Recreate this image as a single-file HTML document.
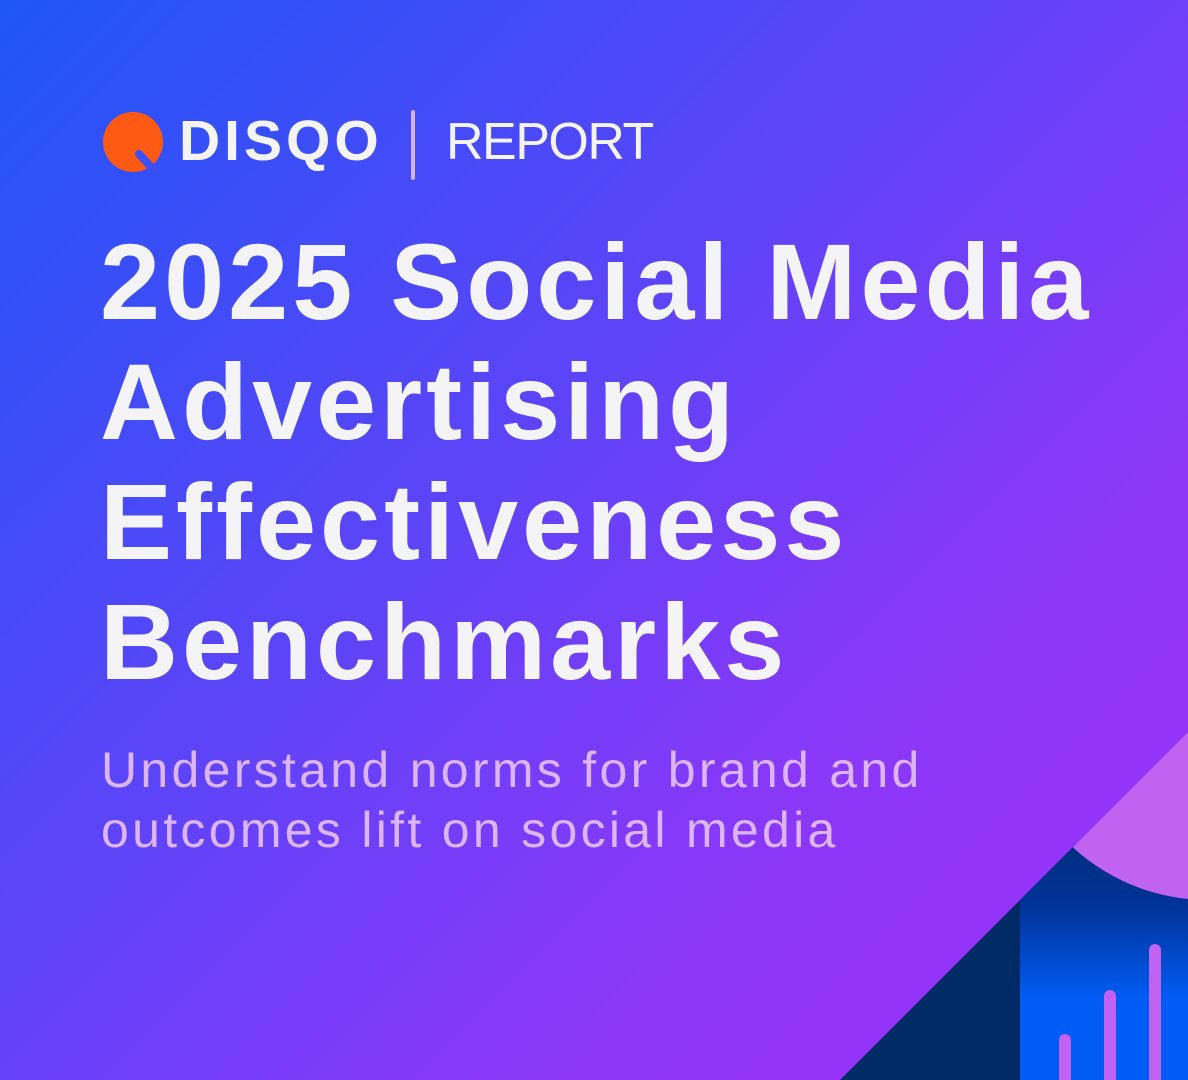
<!DOCTYPE html>
<html><head><style>
html,body{margin:0;padding:0}
body{width:1188px;height:1080px;position:relative;overflow:hidden;background:linear-gradient(135deg,#1f56f8 0%,#5a45f8 40%,#8a38f8 70%,#a030f8 100%);font-family:"Liberation Sans",sans-serif}
.t{position:absolute;color:#f4f4f6;white-space:nowrap}
</style></head><body>
<svg width="1188" height="1080" style="position:absolute;left:0;top:0">
<defs>
<linearGradient id="b" x1="0" y1="850" x2="0" y2="1080" gradientUnits="userSpaceOnUse"><stop offset="0" stop-color="#002f80"/><stop offset="0.25" stop-color="#003399"/><stop offset="0.65" stop-color="#005cf5"/><stop offset="1" stop-color="#005cf5"/></linearGradient>
<clipPath id="c"><polygon points="840,1080 1188,732 1188,1080"/></clipPath>
</defs>
<g clip-path="url(#c)">
<rect x="800" y="700" width="400" height="400" fill="#002a66"/>
<rect x="1020" y="840" width="200" height="260" fill="url(#b)"/>
<circle cx="1208" cy="700" r="200" fill="#c062f2"/>
</g>
<g stroke="#c062f2" stroke-width="12" stroke-linecap="round">
<line x1="1065" y1="1040" x2="1065" y2="1090"/>
<line x1="1110" y1="996" x2="1110" y2="1090"/>
<line x1="1155" y1="950" x2="1155" y2="1090"/>
</g>
<circle cx="133" cy="142" r="30" fill="#ff5a14"/>
<line x1="139" y1="154" x2="152" y2="168" stroke="#3f4ff6" stroke-width="8" stroke-linecap="round"/>
<line x1="413" y1="112" x2="413" y2="178" stroke="#d8aef0" stroke-width="4" stroke-linecap="round"/>
</svg>
<div class="t" style="left:179px;top:108px;font-size:57px;font-weight:bold;letter-spacing:4px">DISQO</div>
<div class="t" style="left:446px;top:112px;font-size:52px;letter-spacing:-1.5px">REPORT</div>
<div class="t" style="left:100px;top:222px;font-size:108px;font-weight:bold;line-height:120px;letter-spacing:4px">2025 Social Media<br>Advertising<br>Effectiveness<br>Benchmarks</div>
<div class="t" style="left:101px;top:740px;font-size:50px;line-height:60px;color:#dcb4f8;letter-spacing:3.3px">Understand norms for brand and<br>outcomes lift on social media</div>
</body></html>
